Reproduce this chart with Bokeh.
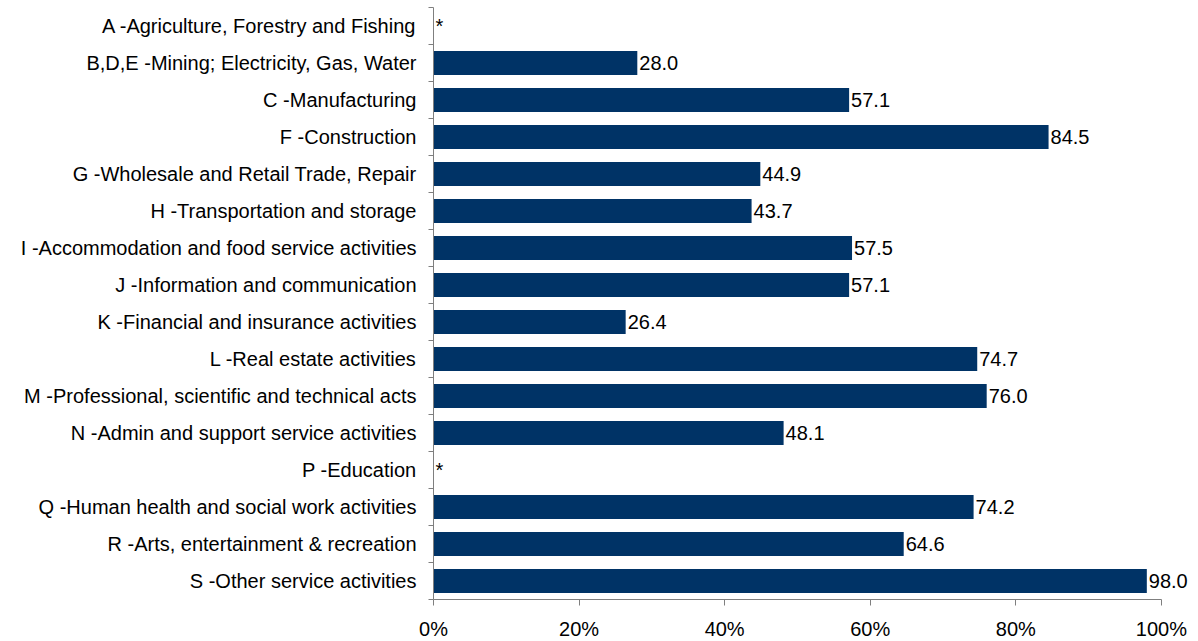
from bokeh.plotting import figure
from bokeh.models import Range1d, FixedTicker, ColumnDataSource, PrintfTickFormatter, LabelSet
from bokeh.core.properties import value
from bokeh.embed import file_html
from bokeh.resources import INLINE

categories = [
    "A -Agriculture, Forestry and Fishing",
    "B,D,E -Mining; Electricity, Gas, Water",
    "C -Manufacturing",
    "F -Construction",
    "G -Wholesale and Retail Trade, Repair",
    "H -Transportation and storage",
    "I -Accommodation and food service activities",
    "J -Information and communication",
    "K -Financial and insurance activities",
    "L -Real estate activities",
    "M -Professional, scientific and technical acts",
    "N -Admin and support service activities",
    "P -Education",
    "Q -Human health and social work activities",
    "R -Arts, entertainment & recreation",
    "S -Other service activities",
]
values = [None, 28.0, 57.1, 84.5, 44.9, 43.7, 57.5, 57.1, 26.4, 74.7, 76.0, 48.1, None, 74.2, 64.6, 98.0]
x_ticks = [0, 20, 40, 60, 80, 100]

FONT = "Liberation Sans"
FS = "20px"
BAR = "#003366"
AXIS = "#7f7f7f"

n = len(categories)
idx = list(range(n))
bar_y = [i for i, v in zip(idx, values) if v is not None]
bar_x = [v for v in values if v is not None]
lab_y = idx
lab_x = [v if v is not None else 0 for v in values]
lab_t = [f"{v:.1f}" if v is not None else "*" for v in values]

p = figure(width=1190, height=641, output_backend="svg", toolbar_location=None,
           x_range=Range1d(0, 104), y_range=Range1d(n - 0.5, -0.5),
           frame_width=757, frame_height=592,
           min_border_left=433, min_border_right=0, min_border_top=7, min_border_bottom=42)
p.outline_line_color = None
p.xgrid.grid_line_color = None
p.ygrid.grid_line_color = None
p.background_fill_color = "white"

src = ColumnDataSource(dict(y=bar_y, right=bar_x))
p.hbar(y="y", left=0, right="right", height=0.65, source=src, fill_color=BAR, line_color=None)

lsrc = ColumnDataSource(dict(x=lab_x, y=lab_y, t=lab_t))
labels = LabelSet(x="x", y="y", text="t", source=lsrc, x_offset=2, text_baseline="middle",
                  text_align="left", text_font=value(FONT), text_font_size=FS, text_color="black")
p.add_layout(labels)

# y axis
ya = p.yaxis[0]
ya.ticker = FixedTicker(ticks=idx, minor_ticks=[i + 0.5 for i in range(-1, n)])
ya.major_label_overrides = {i: c for i, c in enumerate(categories)}
ya.major_tick_line_color = None
ya.major_tick_out = 0
ya.major_tick_in = 0
ya.minor_tick_out = 5
ya.minor_tick_in = 0
ya.minor_tick_line_color = AXIS
ya.axis_line_color = AXIS
ya.major_label_standoff = 12
ya.major_label_text_font = FONT
ya.major_label_text_font_size = FS
ya.major_label_text_color = "black"

# x axis
xa = p.xaxis[0]
xa.ticker = FixedTicker(ticks=x_ticks, minor_ticks=[])
xa.bounds = (0, 100)
xa.formatter = PrintfTickFormatter(format="%d%%")
xa.major_tick_out = 6
xa.major_tick_in = 0
xa.major_tick_line_color = AXIS
xa.axis_line_color = AXIS
xa.minor_tick_line_color = None
xa.major_label_standoff = 12
xa.major_label_text_font = FONT
xa.major_label_text_font_size = FS
xa.major_label_text_color = "black"

open("out.html", "w").write(file_html(p, INLINE))
